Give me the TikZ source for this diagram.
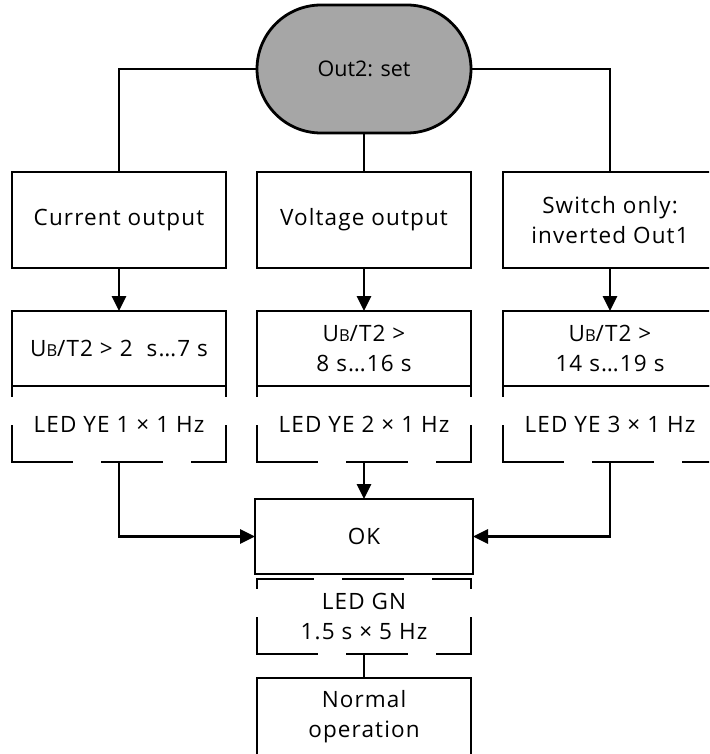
\documentclass[tikz,border=0pt]{standalone}
\usepackage{fontspec}
\setmainfont{Open Sans}[LetterSpace=5]
\newfontfamily\startfont{Open Sans}
\usetikzlibrary{arrows.meta,positioning}
\definecolor{startgray}{RGB}{166,166,166}

\newcommand{\ubsym}{U{\fontsize{16.5}{20}\selectfont B}}
\newcommand{\ledsides}[1]{%
    \draw[ledline] (#1.south west) -- (#1.south east);
    \draw[ledline,dash phase=24pt] (#1.south west) -- (#1.north west);
    \draw[ledline,dash phase=24pt] (#1.south east) -- (#1.north east);
    \draw[ledline,dash phase=4pt] (#1.north west) -- (#1.north east);
}

\begin{document}
\begin{tikzpicture}[
    x=1pt,
    y=-1pt,
    node distance=0pt,
    >={Triangle[length=15pt,width=14pt]},
    line width=2.8pt,
    b/.style={
        draw,
        minimum width=214pt,
        minimum height=75pt,
        inner sep=2pt,
        outer sep=0pt,
        align=center,
        font=\fontsize{22.5}{30}\selectfont
    },
    startbox/.style={
        b,
        fill=startgray,
        minimum height=128pt,
        rounded corners=64pt,
        font=\startfont\fontsize{21.5}{30}\selectfont
    },
    ledbox/.style={
        b,
        draw=none,
        minimum height=76pt
    },
    ledline/.style={
        dash pattern=on 60pt off 30pt,
        line cap=rect
    }
]

\clip (0,0) rectangle (709,754);

\node[startbox] (start) at (364,69) {Out2: set};

\node[b, minimum height=96pt] (cur) at (119,220) {Current output};
\node[b, minimum height=96pt] (volt) at (364,220) {Voltage output};
\node[b, minimum height=96pt] (switch) at (610,220) {Switch only:\\inverted Out1};

\node[b, below=43pt of cur] (ub1) {\ubsym/T2 > 2\ \ s…7 s};
\node[b, below=43pt of volt] (ub2) {\ubsym/T2 >\\8 s…16 s};
\node[b, below=43pt of switch] (ub3) {\ubsym/T2 >\\14 s…19 s};

\node[ledbox, below=of ub1] (led1) {LED YE 1 × 1 Hz};
\node[ledbox, below=of ub2] (led2) {LED YE 2 × 1 Hz};
\node[ledbox, below=of ub3] (led3) {LED YE 3 × 1 Hz};

\node[b, minimum width=218pt, below=37pt of led2] (ok) {OK};
\node[ledbox, minimum height=75pt, below=5pt of ok] (gn) {LED GN\\1.5 s × 5 Hz};
\node[b, minimum height=78pt, below=24pt of gn] (norm) {Normal\\operation};

% dashed LED frames
\ledsides{led1}
\ledsides{led2}
\ledsides{led3}
\ledsides{gn}

\draw (start) -| (cur);
\draw (start) -| (switch);
\draw (start) -- (volt);
\draw[->] (cur) -- (ub1);
\draw[->] (volt) -- (ub2);
\draw[->] (switch) -- (ub3);
\draw[->] (led1) |- (ok);
\draw[->] (led3) |- (ok);
\draw[->] (led2) -- (ok);
\draw (gn) -- (norm);

\end{tikzpicture}
\end{document}
